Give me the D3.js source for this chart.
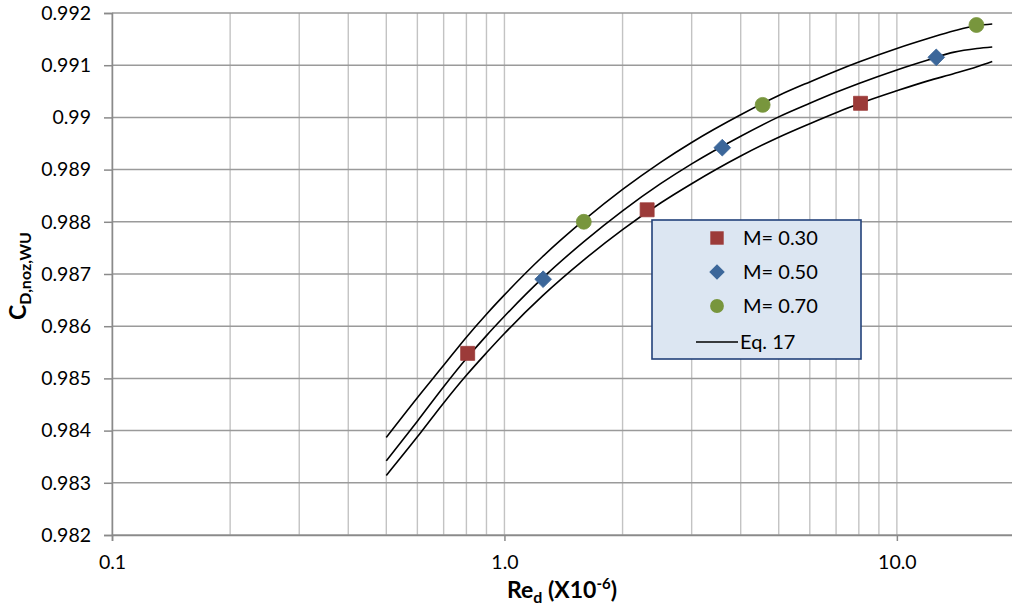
<!DOCTYPE html>
<html><head><meta charset="utf-8">
<script src="https://cdn.jsdelivr.net/npm/d3@7"></script>
<style>body{margin:0;background:#fff;overflow:hidden}svg{display:block;font-family:Lato,"Open Sans",sans-serif}</style>
</head><body>
<svg id="c" width="1012" height="611"></svg>
<script>
// ---- data ----
const m30Re = [0.806, 2.31, 8.08];
const m30Cd = [0.98548, 0.98823, 0.99027];
const m50Re = [1.255, 3.59, 12.6];
const m50Cd = [0.98690, 0.98942, 0.99115];
const m70Re = [1.593, 4.55, 15.95];
const m70Cd = [0.98800, 0.99024, 0.99177];
const eqRe  = [0.5, 0.6, 0.7, 0.8, 0.9, 1.0, 1.25, 1.6, 2, 2.5, 3, 4, 5, 6, 7, 8, 10, 12, 14, 16, 17.5];
const eqTop = [0.98387,0.98463,0.98525,0.98579,0.98623,0.98660,0.98733,0.98804,0.98862,0.98914,0.98952,0.99005,0.99042,0.99068,0.99089,0.99106,0.99132,0.99151,0.99166,0.99176,0.99179];
const eqMid = [0.98342,0.98418,0.98484,0.98538,0.98582,0.98619,0.98692,0.98763,0.98821,0.98873,0.98911,0.98964,0.99001,0.99027,0.99048,0.99065,0.99091,0.99110,0.99125,0.99132,0.99135];
const eqBot = [0.98314,0.98388,0.98453,0.98506,0.98549,0.98586,0.98658,0.98728,0.98785,0.98836,0.98873,0.98926,0.98962,0.98988,0.99009,0.99026,0.99051,0.99070,0.99084,0.99097,0.99107];
const yTicks = [0.982,0.983,0.984,0.985,0.986,0.987,0.988,0.989,0.99,0.991,0.992];
const yTickLabels = ["0.982","0.983","0.984","0.985","0.986","0.987","0.988","0.989","0.99","0.991","0.992"];
const xMajor = [0.1, 1, 10];
const xMajorLabels = ["0.1","1.0","10.0"];
const legendLabels = ["M= 0.30","M= 0.50","M= 0.70","Eq. 17"];
const colors = {m30:"#9c3b39", m50:"#3c679a", m70:"#78963d"};

// ---- layout ----
const L = 112, T = 13, B = 535, R = 1015;
const svg = d3.select("#c");
const x = d3.scaleLog().domain([0.1, 20]).range([L, R]);
const y = d3.scaleLinear().domain([0.982, 0.992]).range([B, T]);

// vertical grid
const xGrid = [];
[0.1, 1, 10].forEach(d => { for (let k = 1; k <= 9; k++) { const v = d * k; if (v <= 20 + 1e-9) xGrid.push(v); } });
xGrid.push(20);
svg.append("g").selectAll("line").data(xGrid).join("line")
  .attr("x1", d => x(d)).attr("x2", d => x(d)).attr("y1", T).attr("y2", B)
  .attr("stroke", "#c3c3c3").attr("stroke-width", 1.4);
// horizontal grid
svg.append("g").selectAll("line").data(yTicks).join("line")
  .attr("x1", L).attr("x2", R).attr("y1", d => y(d)).attr("y2", d => y(d))
  .attr("stroke", "#9a9a9a").attr("stroke-width", 1.5);

// axes
const yAxis = svg.append("g").attr("transform", `translate(${L},0)`)
  .call(d3.axisLeft(y).tickValues(yTicks).tickFormat((d,i) => yTickLabels[i]).tickSize(8).tickPadding(13));
yAxis.select(".domain").attr("stroke", "#8a8a8a").attr("stroke-width", 1.5);
yAxis.selectAll(".tick line").attr("stroke", "#8a8a8a").attr("stroke-width", 1.5);
yAxis.selectAll("text").attr("font-size", 19.5).attr("fill", "#000").attr("font-family", "Lato");

const xAxis = svg.append("g").attr("transform", `translate(0,${B})`)
  .call(d3.axisBottom(x).tickValues(xMajor).tickFormat((d,i) => xMajorLabels[i]).tickSize(6).tickPadding(14));
xAxis.select(".domain").attr("stroke", "#8a8a8a").attr("stroke-width", 1.5);
xAxis.selectAll(".tick line").attr("stroke", "#8a8a8a").attr("stroke-width", 1.5);
xAxis.selectAll("text").attr("font-size", 19.5).attr("fill", "#000").attr("font-family", "Lato");

// Eq. 17 lines
const line = d3.line().x(d => x(d[0])).y(d => y(d[1])).curve(d3.curveMonotoneX);
[eqTop, eqMid, eqBot].forEach(arr => {
  svg.append("path").datum(eqRe.map((r,i) => [r, arr[i]]))
    .attr("d", line).attr("fill", "none").attr("stroke", "#000").attr("stroke-width", 1.6);
});

// markers
const sym = (type, size) => d3.symbol().type(type).size(size)();
function drawSeries(re, cd, type, size, color, rot) {
  svg.append("g").selectAll("path").data(re.map((r,i) => [r, cd[i]])).join("path")
    .attr("d", sym(type, size))
    .attr("transform", d => `translate(${x(d[0])},${y(d[1])}) rotate(${rot})`)
    .attr("fill", color).attr("stroke", color).attr("stroke-width", 0.8);
}
drawSeries(m30Re, m30Cd, d3.symbolSquare, 196, colors.m30, 0);
drawSeries(m50Re, m50Cd, d3.symbolSquare, 140, colors.m50, 45);
drawSeries(m70Re, m70Cd, d3.symbolCircle, 175, colors.m70, 0);

// legend
const lg = svg.append("g");
lg.append("rect").attr("x", 652).attr("y", 220).attr("width", 209).attr("height", 139)
  .attr("fill", "#dce6f2").attr("stroke", "#22417a").attr("stroke-width", 1.6);
const ly = [238, 272, 306, 342];
const lSyms = [[d3.symbolSquare,180,colors.m30,0],[d3.symbolSquare,120,colors.m50,45],[d3.symbolCircle,150,colors.m70,0]];
lSyms.forEach((s,i) => {
  lg.append("path").attr("d", sym(s[0], s[1]))
    .attr("transform", `translate(717,${ly[i]}) rotate(${s[3]})`).attr("fill", s[2]);
});
lg.append("line").attr("x1", 696).attr("x2", 738).attr("y1", ly[3]).attr("y2", ly[3]).attr("stroke", "#000").attr("stroke-width", 1.6);
legendLabels.forEach((t,i) => {
  lg.append("text").attr("x", i < 3 ? 743 : 740).attr("y", ly[i]).attr("dy", "0.35em")
    .attr("font-size", 20).attr("font-family", "Lato").text(t);
});

// axis titles
const xt = svg.append("text").attr("x", 562).attr("y", 598).attr("text-anchor", "middle")
  .attr("font-weight", "bold").attr("font-family", "Lato").attr("font-size", 23);
xt.append("tspan").text("Re");
xt.append("tspan").attr("font-size", 16).attr("dy", 5).text("d");
xt.append("tspan").attr("dy", -5).text(" (X10");
xt.append("tspan").attr("font-size", 15).attr("dy", -9).text("-6");
xt.append("tspan").attr("dy", 9).text(")");

const yt = svg.append("text").attr("transform", "translate(26,276) rotate(-90)").attr("text-anchor", "middle")
  .attr("font-weight", "bold").attr("font-family", "Lato").attr("font-size", 23);
yt.append("tspan").text("C");
yt.append("tspan").attr("font-size", 16).attr("dy", 5).text("D,noz,WU");
</script>
</body></html>
